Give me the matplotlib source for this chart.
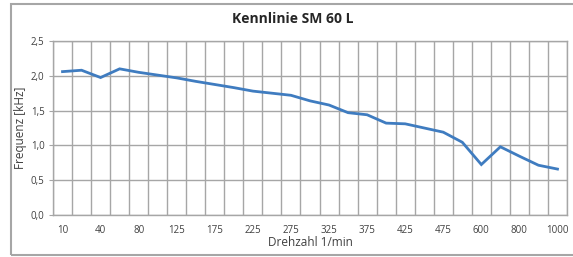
import numpy as np
import matplotlib.pyplot as plt
from matplotlib.patches import Rectangle

# Drehzahl-Kategorien (1/min) und gemessene Frequenz (kHz)
drehzahl = ['10', '20', '40', '60', '80', '100', '125', '150', '175', '200',
            '225', '250', '275', '300', '325', '350', '375', '400', '425',
            '450', '475', '500', '600', '700', '800', '900', '1000']
frequenz = [2.06, 2.08, 1.975, 2.10, 2.05, 2.01, 1.97, 1.92, 1.875, 1.83,
            1.78, 1.75, 1.72, 1.64, 1.58, 1.47, 1.44, 1.32, 1.31,
            1.25, 1.19, 1.045, 0.725, 0.98, 0.845, 0.715, 0.66]
y_ticks = [0.0, 0.5, 1.0, 1.5, 2.0, 2.5]
y_labels = ['0,0', '0,5', '1,0', '1,5', '2,0', '2,5']

plt.rcParams['font.family'] = ['Open Sans', 'DejaVu Sans']
grau = '#a6a6a6'

fig = plt.figure(figsize=(5.73, 2.57), dpi=100)
ax = fig.add_axes([53/573, 1-215/257, (567-53)/573, (215-41)/257])

x = np.arange(len(drehzahl))
ax.plot(x, frequenz, color='#3f7cc0', lw=2, solid_joinstyle='miter')

# Gitter an den Kategoriegrenzen (wie Excel)
ax.set_xlim(-0.5, len(drehzahl) - 0.5)
ax.set_ylim(0, 2.5)
ax.set_xticks(x[::2])
ax.set_xticklabels(drehzahl[::2], fontsize=7, color='#404040')
ax.set_xticks(np.arange(len(drehzahl) + 1) - 0.5, minor=True)
ax.set_yticks(y_ticks)
ax.set_yticklabels(y_labels, fontsize=7, color='#404040')
ax.tick_params(axis='x', which='both', length=0, pad=7)
ax.tick_params(axis='y', length=3, color=grau, pad=3)
ax.grid(True, which='minor', axis='x', color=grau, lw=1)
ax.grid(True, which='major', axis='y', color=grau, lw=1)
for s in ax.spines.values():
    s.set_color(grau)
    s.set_linewidth(1)
ax.set_axisbelow(True)

ax.set_xlabel('Drehzahl 1/min', fontsize=8.5, color='#404040', labelpad=0)
ax.set_ylabel('Frequenz [kHz]', fontsize=8.5, color='#404040', labelpad=3)

fig.text(293/573, 1-19/257, 'Kennlinie SM 60 L', ha='center', va='center',
         fontsize=10, fontweight='bold', color='#262626')

# Rahmen des Diagrammbereichs
fig.patches.append(Rectangle((11/573, 2/257), 1.1, 1-6/257, transform=fig.transFigure,
                             fill=False, edgecolor=grau, lw=1.5))

fig.savefig('out.png', dpi=100)
